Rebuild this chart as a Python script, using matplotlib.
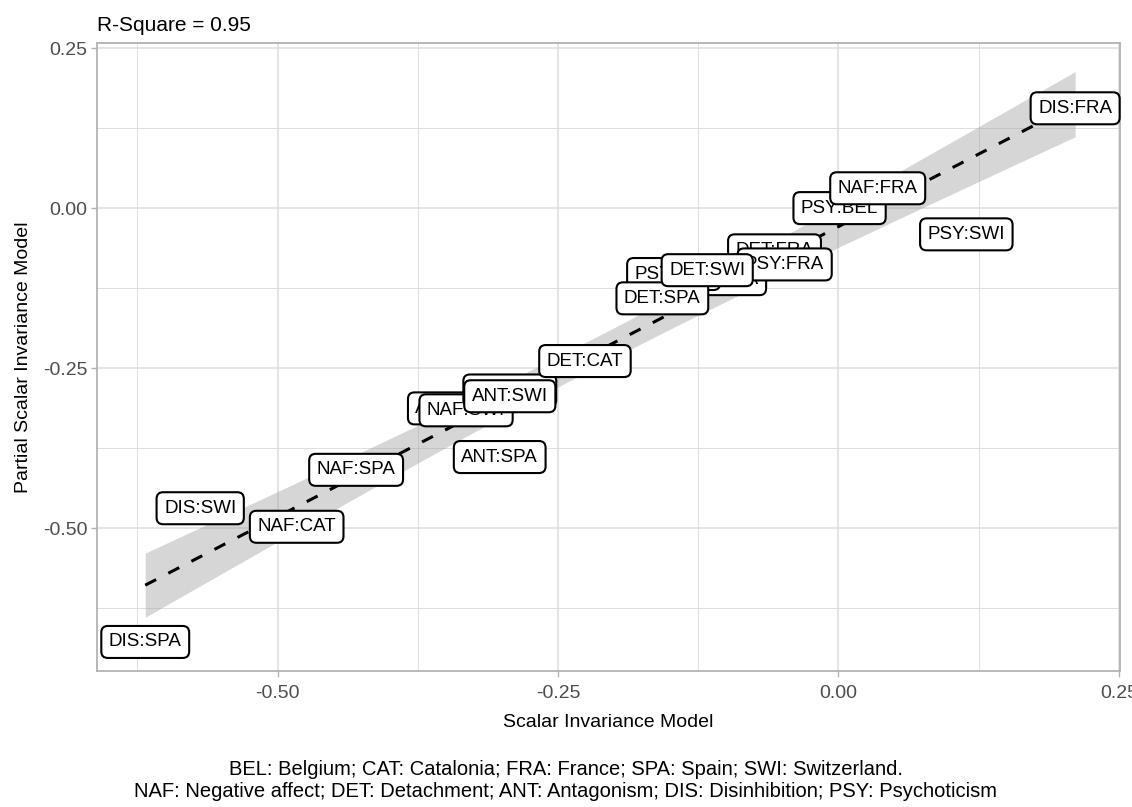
import matplotlib.pyplot as plt
import numpy as np

plt.rcParams['font.family'] = ['Liberation Sans', 'DejaVu Sans']

# label text, scalar model estimate (x), partial scalar model estimate (y)
# order = drawing order (later ones end up on top, like in the original)
labels = ['DIS:SPA', 'DIS:SWI', 'NAF:CAT', 'NAF:SPA', 'ANT:SPA', 'ANT:CAT',
          'NAF:SWI', 'ANT:FRA', 'ANT:SWI', 'DET:CAT', 'PSY:SPA', 'PSY:CAT',
          'DET:SPA', 'DET:FRA', 'PSY:FRA', 'DET:SWI', 'PSY:SWI', 'PSY:BEL',
          'NAF:FRA', 'DIS:FRA']
scalar = [-0.618, -0.569, -0.483, -0.430, -0.302, -0.343,
          -0.332, -0.293, -0.293, -0.226, -0.106, -0.147,
          -0.157, -0.057, -0.048, -0.117, 0.114, 0.001,
          0.035, 0.211]
partial = [-0.678, -0.469, -0.498, -0.409, -0.389, -0.313,
           -0.316, -0.285, -0.294, -0.239, -0.111, -0.103,
           -0.141, -0.066, -0.088, -0.097, -0.041, 0.000,
           0.031, 0.156]

r2_text = 'R-Square = 0.95'
caption = ('BEL: Belgium; CAT: Catalonia; FRA: France; SPA: Spain; SWI: Switzerland.\n'
           'NAF: Negative affect; DET: Detachment; ANT: Antagonism; DIS: Disinhibition; PSY: Psychoticism')

x = np.array(scalar)
y = np.array(partial)

# linear fit + 95% confidence band (like geom_smooth(method = "lm"))
n = len(x)
b1, b0 = np.polyfit(x, y, 1)
resid = y - (b0 + b1 * x)
s = np.sqrt(np.sum(resid ** 2) / (n - 2))
sxx = np.sum((x - x.mean()) ** 2)
t_crit = 2.101  # t(0.975, df = 18)
xs = np.linspace(x.min(), x.max(), 80)
fit = b0 + b1 * xs
se = s * np.sqrt(1.0 / n + (xs - x.mean()) ** 2 / sxx)

fig = plt.figure(figsize=(11.32, 8.07), dpi=100)
ax = fig.add_axes([0.0857, 0.1685, 0.9037, 0.7782])

ax.fill_between(xs, fit - t_crit * se, fit + t_crit * se, color='#999999', alpha=0.4,
                linewidth=0, zorder=2)
ax.plot(xs, fit, color='black', linestyle=(0, (4, 4.5)), linewidth=2.2, zorder=3)

for lab, xi, yi in zip(labels, scalar, partial):
    ax.text(xi, yi, lab, ha='center', va='center', fontsize=13.5, color='black', zorder=5,
            bbox=dict(boxstyle='round,pad=0.4,rounding_size=0.35', facecolor='white',
                      edgecolor='black', linewidth=1.5))

ax.set_xlim(-0.661, 0.251)
ax.set_ylim(-0.7234, 0.258)
ax.set_xticks([-0.5, -0.25, 0.0, 0.25])
ax.set_xticklabels(['-0.50', '-0.25', '0.00', '0.25'])
ax.set_yticks([0.25, 0.0, -0.25, -0.5])
ax.set_yticklabels(['0.25', '0.00', '-0.25', '-0.50'])
ax.set_xticks([-0.625, -0.375, -0.125, 0.125], minor=True)
ax.set_yticks([0.125, -0.125, -0.375, -0.625], minor=True)

ax.grid(which='major', color='#DEDEDE', linewidth=1.1, zorder=0)
ax.grid(which='minor', color='#DEDEDE', linewidth=0.7, zorder=0)
ax.set_axisbelow(True)
for sp in ax.spines.values():
    sp.set_color('#B3B3B3')
    sp.set_linewidth(1.3)
ax.tick_params(which='major', length=4, width=1, color='#B3B3B3', labelsize=14,
               labelcolor='#4D4D4D', pad=3)
ax.tick_params(axis='x', which='major', pad=6)
ax.tick_params(which='minor', length=0)

ax.set_xlabel('Scalar Invariance Model', fontsize=14, color='black', labelpad=9)
ax.set_ylabel('Partial Scalar Invariance Model', fontsize=14, color='black', labelpad=8)
ax.set_title(r2_text, loc='left', fontsize=15, color='black', pad=9)

fig.text(0.5, 0.007, caption, ha='center', va='bottom', fontsize=14.5, linespacing=1.2)

fig.savefig('out.png', dpi=100)
